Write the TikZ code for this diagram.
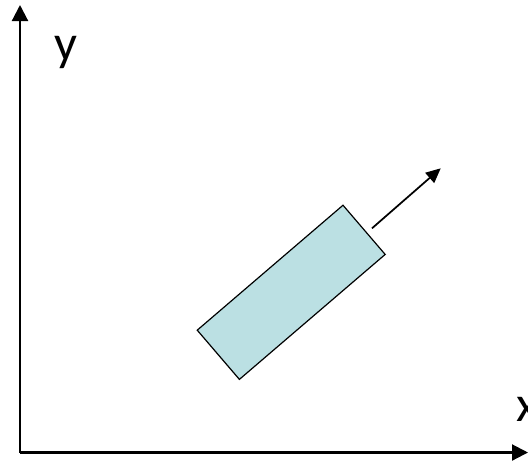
\documentclass[tikz,border=0pt]{standalone}
\usepackage{fontspec}
\setmainfont{Carlito}
\usetikzlibrary{arrows.meta}
\definecolor{boxfill}{RGB}{187,224,227}

\begin{document}
\begin{tikzpicture}[x=0.75pt,y=-0.75pt,
    axis/.style={line width=1.6pt,-{Triangle[length=12pt,width=12pt]}},
    lbl/.style={font=\fontsize{38}{40}\selectfont,inner sep=0pt,anchor=base}]
  \useasboundingbox (0,0) rectangle (528,462);
  % axes: origin lower left
  \coordinate (o) at (20,452.5);
  \coordinate (ytip) at (20,5);
  \coordinate (xtip) at (528,452.5);
  \draw[axis] (o) -- (ytip);
  \draw[axis] (o) -- (xtip);
  \node[lbl] (ylbl) at (66,60.5) {y};
  \node[lbl] (xlbl) at (527,421.7) {x};
  % tilted body and its velocity
  \node[draw,line width=0.9pt,fill=boxfill,minimum width=144pt,minimum height=48.6pt,
        inner sep=0pt,rotate=40.6] (body) at (291.2,292.3) {};
  \coordinate (vs) at (372,228.3);
  \coordinate (ve) at (440.7,168.3);
  \draw[line width=1.3pt,-{Triangle[length=11pt,width=10pt]}] (vs) -- (ve);
\end{tikzpicture}
\end{document}
